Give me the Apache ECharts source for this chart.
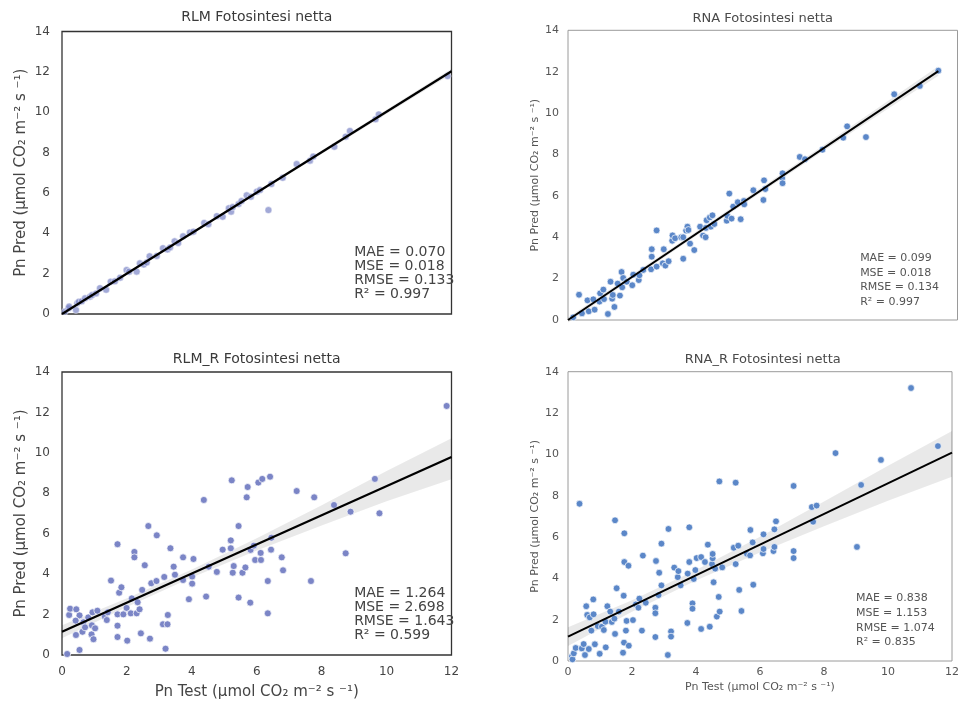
<!DOCTYPE html>
<html>
<head>
<meta charset="utf-8">
<script src="https://cdn.jsdelivr.net/npm/echarts@6/dist/echarts.min.js"></script>
<style>
  html, body { margin: 0; padding: 0; background: #ffffff; }
  #chart { width: 962px; height: 703px; }
</style>
</head>
<body>
<div id="chart"></div>
<script>
// Axis ticks shared by all four panels
const xTicks = [0, 2, 4, 6, 8, 10, 12];
const yTicks = [0, 2, 4, 6, 8, 10, 12, 14];

const panelTitles = ['RLM Fotosintesi netta', 'RNA Fotosintesi netta', 'RLM_R Fotosintesi netta', 'RNA_R Fotosintesi netta'];
const yAxisName = 'Pn Pred (µmol CO₂ m⁻² s ⁻¹)';
const xAxisName = 'Pn Test (µmol CO₂ m⁻² s ⁻¹)';

const metricNames = ['MAE', 'MSE', 'RMSE', 'R²'];
const rlmMetrics = ['0.070', '0.018', '0.133', '0.997'];
const rnaMetrics = ['0.099', '0.018', '0.134', '0.997'];
const rlmRMetrics = ['1.264', '2.698', '1.643', '0.599'];
const rnaRMetrics = ['0.838', '1.153', '1.074', '0.835'];

// Observed (test) vs predicted net photosynthesis, [test, pred]
const rlmPoints = [
  [0.09,0.12],[0.20,0.28],[0.22,0.37],[0.43,0.20],[0.47,0.53],[0.52,0.61],[0.61,0.63],[0.71,0.78],
  [0.86,0.86],[0.93,0.94],[1.05,1.02],[1.17,1.28],[1.36,1.20],[1.50,1.60],[1.63,1.62],[1.79,1.80],
  [1.99,2.18],[2.07,2.10],[2.30,2.10],[2.40,2.51],[2.52,2.45],[2.61,2.55],[2.70,2.86],[2.92,2.88],
  [3.11,3.26],[3.25,3.20],[3.33,3.30],[3.47,3.60],[3.58,3.52],[3.73,3.85],[3.94,4.04],[4.05,4.08],
  [4.38,4.51],[4.51,4.45],[4.77,4.85],[4.95,4.82],[5.14,5.24],[5.21,5.07],[5.26,5.30],[5.44,5.45],
  [5.53,5.60],[5.69,5.88],[5.82,5.81],[6.00,6.06],[6.10,6.14],[6.36,5.15],[6.45,6.44],[6.80,6.75],
  [7.23,7.43],[7.64,7.60],[7.74,7.80],[8.39,8.29],[8.74,8.79],[8.87,9.07],[9.66,9.65],[9.76,9.89],
  [11.88,11.79]
];
const rnaPoints = [
  [0.16,0.13],[0.34,1.22],[0.43,0.32],[0.60,0.95],[0.64,0.42],[0.78,1.00],[0.82,0.50],[0.97,0.89],
  [0.99,1.29],[1.09,1.47],[1.11,1.01],[1.23,0.29],[1.31,1.85],[1.36,1.03],[1.38,1.21],[1.43,0.63],
  [1.53,1.76],[1.60,1.18],[1.65,2.32],[1.67,1.58],[1.70,2.03],[1.81,1.85],[1.98,1.68],[2.01,2.19],
  [2.18,1.93],[2.20,2.16],[2.32,2.42],[2.56,2.45],[2.58,3.06],[2.58,3.42],[2.73,2.58],[2.73,4.33],
  [2.92,2.74],[2.95,3.42],[3.00,2.63],[3.10,2.84],[3.21,3.83],[3.22,4.09],[3.30,3.95],[3.49,4.00],
  [3.55,2.96],[3.55,4.00],[3.64,4.32],[3.68,4.51],[3.71,4.35],[3.76,3.69],[3.89,3.38],[4.07,4.51],
  [4.16,4.08],[4.24,4.00],[4.25,4.45],[4.27,4.82],[4.37,4.96],[4.40,4.51],[4.45,5.06],[4.51,4.64],
  [4.89,4.80],[4.91,5.03],[4.97,6.11],[5.04,4.90],[5.09,5.48],[5.23,5.69],[5.32,4.87],[5.42,5.75],
  [5.43,5.59],[5.71,6.27],[6.02,5.80],[6.04,6.75],[6.08,6.33],[6.60,6.86],[6.61,6.61],[6.61,7.09],
  [7.14,7.88],[7.30,7.77],[7.84,8.23],[8.48,8.81],[8.60,9.36],[9.18,8.84],[10.05,10.91],[10.84,11.31],
  [11.41,12.05]
];
const rlmRPoints = [
  [0.16,0.05],[0.22,1.98],[0.25,2.29],[0.43,0.99],[0.44,2.26],[0.54,1.96],[0.54,0.25],[0.42,1.70],
  [0.63,1.15],[0.66,1.62],[0.71,1.37],[0.81,1.86],[0.92,1.47],[0.91,1.02],[0.97,0.78],[0.94,2.11],
  [1.02,1.32],[1.09,2.19],[1.32,1.90],[1.38,1.73],[1.41,2.11],[1.51,3.68],[1.71,5.48],[1.71,1.45],
  [1.71,0.89],[1.71,2.01],[1.76,3.08],[1.83,3.35],[1.89,2.01],[1.99,2.33],[2.01,0.71],[2.12,2.06],
  [2.15,2.80],[2.23,5.10],[2.23,4.83],[2.30,2.06],[2.33,2.61],[2.39,2.26],[2.43,1.07],[2.47,3.22],
  [2.55,4.44],[2.66,6.38],[2.71,0.81],[2.75,3.55],[2.91,3.66],[2.92,5.92],[3.11,1.52],[3.15,3.86],
  [3.19,0.31],[3.25,1.52],[3.26,1.98],[3.34,5.28],[3.44,4.37],[3.48,3.97],[3.73,4.83],[3.73,3.71],
  [3.91,2.76],[4.01,3.88],[4.01,3.53],[4.05,4.75],[4.37,7.67],[4.44,2.89],[4.52,4.37],[4.77,4.11],
  [4.95,5.21],[5.20,5.67],[5.20,5.28],[5.23,8.64],[5.26,4.07],[5.29,4.40],[5.44,6.38],[5.44,2.84],
  [5.56,4.07],[5.65,4.33],[5.69,7.80],[5.72,8.31],[5.80,2.59],[5.81,5.20],[5.91,5.41],[5.95,4.70],
  [6.05,8.53],[6.12,5.05],[6.13,4.70],[6.17,8.71],[6.34,3.66],[6.34,2.06],[6.41,8.82],[6.44,5.21],
  [6.45,5.80],[6.77,4.83],[6.81,4.19],[7.23,8.11],[7.67,3.66],[7.77,7.80],[8.38,7.42],[8.74,5.03],
  [8.89,7.09],[9.64,8.71],[9.78,7.01],[11.85,12.32]
];
const rnaRPoints = [
  [0.12,0.21],[0.14,0.08],[0.18,0.37],[0.24,0.63],[0.36,7.61],[0.43,0.61],[0.49,0.82],[0.53,0.29],
  [0.57,2.65],[0.60,2.23],[0.65,0.58],[0.68,2.11],[0.73,1.47],[0.79,2.98],[0.80,2.26],[0.84,0.81],
  [0.93,1.69],[0.99,0.35],[1.06,1.66],[1.12,1.50],[1.17,1.90],[1.18,0.66],[1.23,2.65],[1.32,2.39],
  [1.37,1.89],[1.45,2.05],[1.47,6.81],[1.47,1.31],[1.52,3.52],[1.59,2.39],[1.72,0.40],[1.74,3.16],
  [1.75,0.89],[1.76,4.79],[1.76,6.18],[1.81,1.47],[1.83,1.94],[1.89,4.61],[1.90,0.74],[2.03,1.98],
  [2.12,2.74],[2.20,2.58],[2.23,3.02],[2.31,1.47],[2.34,5.10],[2.43,2.82],[2.73,2.58],[2.73,2.31],
  [2.73,1.16],[2.75,4.84],[2.83,3.19],[2.85,4.27],[2.92,3.66],[2.92,5.68],[3.12,0.29],[3.14,6.39],
  [3.22,1.43],[3.22,1.18],[3.32,4.52],[3.43,4.06],[3.45,4.35],[3.52,3.66],[3.73,1.84],[3.74,4.23],
  [3.79,4.79],[3.79,6.47],[3.89,2.79],[3.89,2.53],[3.93,3.97],[3.98,4.40],[4.02,4.98],[4.16,5.03],
  [4.16,1.55],[4.28,4.79],[4.37,5.63],[4.43,1.66],[4.50,4.69],[4.52,4.97],[4.52,5.18],[4.55,3.81],
  [4.60,4.47],[4.65,2.15],[4.71,3.10],[4.73,8.69],[4.74,2.39],[4.82,4.53],[5.18,5.48],[5.24,4.69],
  [5.24,8.63],[5.32,5.58],[5.35,3.44],[5.42,2.42],[5.59,5.19],[5.69,5.11],[5.70,6.34],[5.77,5.74],
  [5.79,3.69],[6.09,5.21],[6.11,5.42],[6.11,6.13],[6.42,5.32],[6.45,5.52],[6.45,6.37],[6.50,6.76],
  [7.05,8.47],[7.05,5.32],[7.05,4.98],[7.62,7.45],[7.66,6.74],[7.77,7.52],[8.36,10.06],[9.03,5.52],
  [9.16,8.52],[9.78,9.73],[10.72,13.21],[11.56,10.40]
];

// Regression lines (end points) and 95% confidence bands [x, low, high]
const rlmFit = [[0, 0.0], [12, 12.03]];
const rnaFit = [[0, 0.0], [11.41, 12.03]];
const rlmRFit = [[0, 1.15], [12, 9.79]];
const rnaRFit = [[0, 1.18], [12, 10.08]];

const rlmBand = [[0, -0.08, 0.08], [6, 5.95, 6.08], [12, 11.9, 12.16]];
const rnaBand = [[0, -0.12, 0.12], [4, 4.12, 4.32], [8, 8.30, 8.58], [11.41, 11.80, 12.26]];
const rlmRBand = [[0, 0.83, 1.47], [2, 2.37, 2.81], [4, 3.83, 4.23], [6, 5.17, 5.77], [8, 6.41, 7.41], [10, 7.60, 9.10], [12, 8.70, 10.72]];
const rnaRBand = [[0, 0.73, 1.63], [2, 2.38, 2.94], [4, 3.90, 4.40], [6, 5.25, 6.01], [8, 6.52, 7.72], [10, 7.75, 9.45], [12, 8.92, 11.13]];

// Panel styling: the left column uses larger, darker text; the right column smaller, lighter text
const panels = [
  { grid: { left: 62, top: 31.5, width: 389.5, height: 282.5 }, points: rlmPoints, fit: rlmFit, band: rlmBand,
    metrics: rlmMetrics, dot: '#7b85c6', dotOpacity: 0.7, showX: false, big: true, textTop: 245 },
  { grid: { left: 568, top: 30.3, width: 389.5, height: 289.7 }, points: rnaPoints, fit: rnaFit, band: rnaBand,
    metrics: rnaMetrics, dot: '#5b87c8', dotOpacity: 1, showX: false, big: false, textTop: 250.7 },
  { grid: { left: 62, top: 372, width: 389.5, height: 283 }, points: rlmRPoints, fit: rlmRFit, band: rlmRBand,
    metrics: rlmRMetrics, dot: '#7b85c6', dotOpacity: 1, showX: true, big: true, textTop: 586 },
  { grid: { left: 568, top: 371.7, width: 389.5, height: 289.3 }, points: rnaRPoints, fit: rnaRFit, band: rnaRBand,
    metrics: rnaRMetrics, dot: '#5b87c8', dotOpacity: 1, showX: true, big: false, textTop: 591 }
];

const FONT = 'DejaVu Sans';
const chart = echarts.init(document.getElementById('chart'), null, { renderer: 'canvas' });

const grids = [], xAxes = [], yAxes = [], series = [], titles = [], graphics = [];

panels.forEach((p, i) => {
  const big = p.big;
  const tickColor = big ? '#444444' : '#555555';
  grids.push(Object.assign({ show: true, borderColor: big ? '#333333' : '#9a9a9a', borderWidth: big ? 1.3 : 1, backgroundColor: '#ffffff' }, p.grid));

  xAxes.push({
    type: 'value', gridIndex: i,
    min: xTicks[0], max: xTicks[xTicks.length - 1], interval: xTicks[1] - xTicks[0],
    axisLine: { show: false }, axisTick: { show: false }, splitLine: { show: false },
    axisLabel: { show: p.showX, color: tickColor, fontFamily: FONT, fontSize: big ? 12 : 11, margin: big ? 11 : 6 },
    name: p.showX ? xAxisName : '', nameLocation: 'middle', nameGap: big ? 30 : 21,
    nameTextStyle: { color: tickColor, fontFamily: FONT, fontSize: big ? 15 : 11 }
  });
  yAxes.push({
    type: 'value', gridIndex: i,
    min: yTicks[0], max: yTicks[yTicks.length - 1], interval: yTicks[1] - yTicks[0],
    axisLine: { show: false }, axisTick: { show: false }, splitLine: { show: false },
    axisLabel: { color: tickColor, fontFamily: FONT, fontSize: big ? 12 : 11, margin: big ? 12 : 9 },
    name: yAxisName, nameLocation: 'middle', nameRotate: 90, nameGap: big ? 33 : 26,
    nameTextStyle: { color: tickColor, fontFamily: FONT, fontSize: big ? 15 : 11 }
  });

  // confidence band
  series.push({
    type: 'custom', xAxisIndex: i, yAxisIndex: i, silent: true, z: 1,
    data: p.band,
    renderItem: (params, api) => {
      if (params.dataIndex !== 0) return null;
      const upper = p.band.map(d => api.coord([d[0], d[2]]));
      const lower = p.band.map(d => api.coord([d[0], d[1]])).reverse();
      return { type: 'polygon', shape: { points: upper.concat(lower) }, style: { fill: 'rgba(0,0,0,0.085)' } };
    }
  });
  // observations
  series.push({
    type: 'scatter', xAxisIndex: i, yAxisIndex: i, z: 2,
    data: p.points, symbol: 'circle', symbolSize: big ? 7 : 6.8,
    itemStyle: { color: p.dot, opacity: p.dotOpacity, borderColor: '#ffffff', borderWidth: 0.7 }
  });
  // regression line
  series.push({
    type: 'line', xAxisIndex: i, yAxisIndex: i, z: 3,
    data: p.fit, symbol: 'none', silent: true,
    lineStyle: { color: '#000000', width: big ? 2.2 : 2 }
  });

  const cx = p.grid.left + p.grid.width / 2;
  titles.push({
    text: panelTitles[i], left: cx, top: i < 2 ? (big ? 10 : 12) : (big ? 352 : 353), textAlign: 'center', padding: 0,
    textStyle: { fontFamily: FONT, fontWeight: 'normal', fontSize: big ? 14 : 13, color: big ? '#3a3a3a' : '#4a4a4a' }
  });
});

chart.setOption({
  animation: false,
  backgroundColor: '#ffffff',
  title: titles,
  grid: grids,
  xAxis: xAxes,
  yAxis: yAxes,
  series: series
});

// Metric annotations anchored at x = 9 in each panel
panels.forEach((p, i) => {
  const px = chart.convertToPixel({ gridIndex: i }, [9, 0])[0];
  const lines = metricNames.map((n, k) => n + ' = ' + p.metrics[k]);
  graphics.push({
    type: 'text', x: px, y: p.textTop, z: 10,
    style: {
      text: lines.join('\n'),
      font: (p.big ? '14px ' : '11px ') + '"' + FONT + '"',
      lineHeight: p.big ? 14 : 14.7,
      fill: p.big ? '#444444' : '#555555',
      align: 'left', verticalAlign: 'top'
    }
  });
});
chart.setOption({ graphic: graphics });
</script>
</body>
</html>
